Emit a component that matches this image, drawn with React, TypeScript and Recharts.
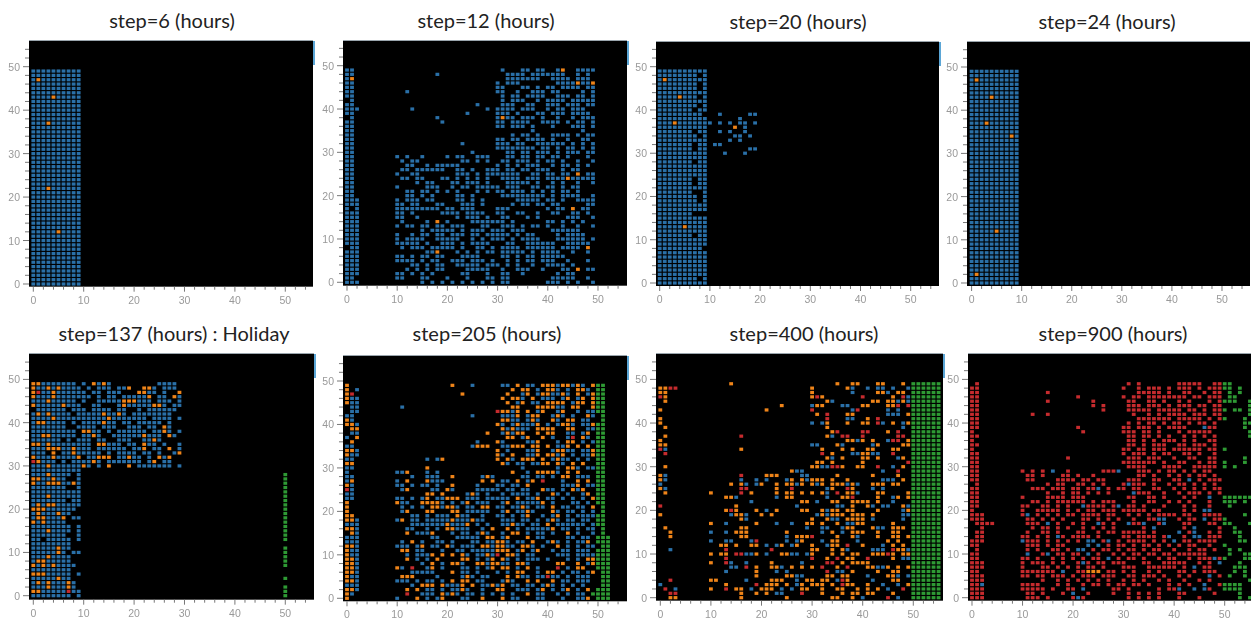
import { ScatterChart, Scatter, XAxis, YAxis, CartesianGrid } from 'recharts';

// each row is one y value, from y=49 down to y=0, one letter per x (spaces are only there to count by tens)
// b = blue, o = orange, r = red, g = green
const step6Rows = [
  'bbbbbbbbbb','bbbbbbbbbb','bobbbbbbbb','bbbbbbbbbb','bbbbbbbbbb','bbbbbbbbbb','bbbbobbbbb','bbbbbbbbbb','bbbbbbbbbb','bbbbbbbbbb',
  'bbbbbbbbbb','bbbbbbbbbb','bbbobbbbbb','bbbbbbbbbb','bbbbbbbbbb','bbbbbbbbbb','bbbbbbbbbb','bbbbbbbbbb','bbbbbbbbbb','bbbbbbbbbb',
  'bbbbbbbbbb','bbbbbbbbbb','bbbbbbbbbb','bbbbbbbbbb','bbbbbbbbbb','bbbbbbbbbb','bbbbbbbbbb','bbbobbbbbb','bbbbbbbbbb','bbbbbbbbbb',
  'bbbbbbbbbb','bbbbbbbbbb','bbbbbbbbbb','bbbbbbbbbb','bbbbbbbbbb','bbbbbbbbbb','bbbbbbbbbb','bbbbbobbbb','bbbbbbbbbb','bbbbbbbbbb',
  'bbbbbbbbbb','bbbbbbbbbb','bbbbbbbbbb','bbbbbbbbbb','bbbbbbbbbb','bbbbbbbbbb','bbbbbbbbbb','bbbbbbbbbb','bbbbbbbbbb','bbbbbbbbbb',
];

const step24Rows = [
  'bbbbbbbbbb','bbbbbbbbbb','bobbbbbbbb','bbbbbbbbbb','bbbbbbbbbb','bbbbbbbbbb','bbbbobbbbb','bbbbbbbbbb','bbbbbbbbbb','bbbbbbbbbb',
  'bbbbbbbbbb','bbbbbbbbbb','bbbobbbbbb','bbbbbbbbbb','bbbbbbbbbb','bbbbbbbbob','bbbbbbbbbb','bbbbbbbbbb','bbbbbbbbbb','bbbbbbbbbb',
  'bbbbbbbbbb','bbbbbbbbbb','bbbbbbbbbb','bbbbbbbbbb','bbbbbbbbbb','bbbbbbbbbb','bbbbbbbbbb','bbbbbbbbbb','bbbbbbbbbb','bbbbbbbbbb',
  'bbbbbbbbbb','bbbbbbbbbb','bbbbbbbbbb','bbbbbbbbbb','bbbbbbbbbb','bbbbbbbbbb','bbbbbbbbbb','bbbbbobbbb','bbbbbbbbbb','bbbbbbbbbb',
  'bbbbbbbbbb','bbbbbbbbbb','bbbbbbbbbb','bbbbbbbbbb','bbbbbbbbbb','bbbbbbbbbb','bbbbbbbbbb','bobbbbbbbb','bbbbbbbbbb','bbbbbbbbbb',
];

const step12Rows = [
  'bb........ .......... .......... .b...bb.bb ..bo..bbbb',
  'bb........ ........b. .......... ..bbbb.bbb bbbb..b.b.',
  'bo........ .......... .......... ..bbbbbbb. .bbbb.bbb.',
  'bb........ .......... .......... b.bbb..... ..bbbbobbo',
  'bb........ .......... .......... bb...bb.b. bb.bbbb.bb',
  'bb........ ..b....... .......... bb..b..bbb .bb....b.b',
  'bb........ .......... .......... .b.bb.bbbb ..bbb.bb.b',
  '.b........ .......... .......... .b.bbb..b. bbbb.bbbbb',
  'bb........ .......... ......b... .bbb..bb.. bbb.bbb.bb',
  'bbb....... ...b...... ........b. bbbb.bbb.. b.bb.bbb..',
  'bb........ .......... ....b..... bbb.b...bb .bbb.bbbb.',
  '.b........ ........b. .......... bobb.bbb.b ..b..b.bbb',
  'bb........ .........b .......... bb.bbbb..b bbb.b.bb.b',
  'bb........ .......... .......... bb.bbb.b.. .b...bbb.b',
  'bb........ .......... .......... .......b.. .......b..',
  'bb........ .......... .......... ...b.bb.b. .bbbb.b.bb',
  'bb........ .......... .......... bb.bb.bbbb .b..b..bb.',
  'bb........ .......... ...b...... bbb.bb..bb bbbb.b.b.b',
  'bb........ .......... .......... bbbbbbbb.b b.b.bb.b.b',
  'bb........ .......... .....b.... ..bb.bb.bb b.b.bbb.bb',
  'bb........ b.b..b.... b.bb..bbb. ..bb.bb.bb .bb.b...b.',
  'bb........ .b.bb..... ...bb.b.b. .bb.bbb.b. bb.b..b..b',
  'bb........ ..bb..b.bb bbb....... b.b.b.bbb. .b.bb.b.b.',
  'bb........ .bb.bbbbbb ..bb.b..bb b.bb.bb.bb b..b.bb...',
  'bb........ b..bb..... ..bbb.b.bb bbbbb..bb. bb.bb.o.bb',
  'bb........ .bb.bb...b b.b.b.b.b. .bbbb.bbb. bbbbobbbbb',
  'bb........ ....b.bb.. .bb.bbb.b. ..bbbbb.b. .b.b..b..b',
  'bb........ b.....bbb. .b.bb.bbbb b.bbb..bb. bb.b.bb...',
  'bb........ ..bb.bb.b. b.b...b.b. bb.bbb.b.b .b.bb.b...',
  'bb........ ..bb.b.b.. ..bb.b.... .bbbbbbbbb .b.bbbb..b',
  'bbb....... b.bbb.bb.. ..bb.b.b.. ....bbbbb. bb.b..bbbb',
  'bbb....... bb.bb...bb ...bbb.b.. ...b.bb.bb .bb.....bb',
  'b.b....... bbbbbbbbb. bb.bbb.... bbb....... b.bb.o.bb.',
  'bbb....... bb.b.....b bbb.bbbb.. bb..bb..b. .bb..bb.b.',
  'bbb....... bb..b..... ..b.bbb.b. .bb...b.b. ....bbb..b',
  'bbb....... .b....b.o. b....bbbbb bb.b...... bb.b.b.b..',
  'bbb....... b.bb.bb.bb .bbb...bb. .bbb.b.bb. b..b..b..b',
  'bbb....... .....b.bbb bb.b.bbb.b bb.bbb.... .bbbbbb...',
  'bbb....... b..b.bb.bb .bbb.bb.bb bbb.b.bb.. ..b.bbbb..',
  'bbb....... b.bbbb..bb bbb..b.b.b bb.b.bbbb. ..bbbbbb.b',
  'bbb....... bbbbb.b..b bb.b.bbbb. ..bb..bbbb bb..bbbbb.',
  '.bb....... .b.bbb.bbb bb.b..bb.b .bbbb.bbbb bb.bbbb.o.',
  'bbb....... ......bbo. ..b.b.b.bb .bbbbb.b.b bbb..b..b.',
  'bbb....... bb.b.bb.bb ...bbbb... .bb.b.bb.b bbbb......',
  'bbb....... bbbb.b.bb. .bbb.bbb.b ..b.b.bb.b bb..b...b.',
  'bbb....... ...bb.b.bb ..bbbbb.bb b.b.b..b.. bbbb.b....',
  'bbb....... ..b.b.b.bb ....bbbbb. .b..bbb..b ...bb.o.bb',
  'bbb....... bb.b.b.b.. ...bb...b. .bb..b.... ..b.bb....',
  'bb........ bb...bb... b...b...bb .bb....... .bbbbb..b.',
  'bbb....... .....b.b.b .b.b.b.b.b .bb....... bbb.b.b..b',
];

const step20Rows = [
  'bbbbbbbbbb','bbbbbbbb.b','bobbbbbbbb','bbbbbbbb.b','bbbbbbbb.b','bbbbbbbbbb','bbbbobbb.b','bbbbbbbbbb','bbbbbbbb.b','bbbbbbb.bb',
  'bbbbbbbbb. ..b.....bb',
  'bbbbbbbbbb ......b...',
  'bbbobbbbbb b.b.b.bb.b',
  'bbbbbbbbbb .....o.b..',
  'bbbbbbb.bb ..b.b..b..',
  'bbbbbbbb.b .....bb.b.',
  'bbbbbbbbbb ....b.b...',
  'bbbbbbb.bb .bb.......',
  'bbbbbbb.bb ........bb',
  'bbbbbbbbbb ...b...b..',
  'bbbbbbbbbb','bbbbbbb.bb','bbbbbbbbbb','bbbbbbbbbb','bbbbbbbbbb','bbbbbbb.bb','bbbbbbb.bb','bbbbbbbbbb','bbbbbbb..b','bbbbbbbb.b',
  'bbbbbbbb.b','bbbbbbbbbb','bbbbbbbbbb','bbbbbbb...','bbbbbbbbbb','bbbbbbbbbb','bbbbbobbbb','bbbbbbbbbb','bbbbbbb.bb','bbbbbbbbbb',
  'bbbbbbbbbb','bbbbbbbbb.','bbbbbbbbbb','bbbbbbbbbb','bbbbbbbbbb','bbbbbbbbbb','bbbbbbbbbb','bbbbbbbbbb','bbbbbbbb.b','bbbbbbbbbb',
];

const step137Rows = [
  'oobbbbbbb. b.obob.... .....bbbb.',
  'obbobobbbb .b.bbb.bbo ..oob.bbb.',
  'orbbobbbbb b.bb.bbb.. .oobb.b..o',
  'obbbobbbbb bb.b.bb.bb bbbo.bb.ob',
  'bbbobbbbb. b..bbbbboo obbb.bbb.b',
  'obbbbbobbb ..bb...bob bbbboob.bb',
  '.bbbbbb.bb b.bbbb.bb. .b.bbbbbb.',
  'bobobbbb.b bbbbobbob. bbbbbbbb..',
  'bbbbobbbbb bbbbbobbbb bbb.bbbb.b',
  'boobbbb.b. bbbbobb.bb .bbbbb.b..',
  'bbbbbbb..b bbb.bbb..b bb.bb.ob..',
  'bbbbbbbbb. oobb.b.bbb bbb.bbob.b',
  'bboobbbbb. bbob..bbbb bbobbb.ob.',
  'bbbbbb.b.b bb.bb..bbb ..bbob....',
  'oobobbbbbb bb.oobbb.b b.obb.b..b',
  'bbbooobbob bb.bbbbbb. bbo.bb.o.b',
  'bbb.o.bbob bbbb.b.bbb b.bb.b..bo',
  'obbbobbbbo .bbooo.bbo bb.b.obo..',
  'robbb.b.bb bbob.bbbbb bb.bo.bb..',
  'bbbobbbbbb ob.b.o...o .bbbbbbb.b',
  'bbbbbbbbbb','bbbobbbb.b','oobbobb..b','obbooobbob','bbbbbbb..b','bbbbbbbbbb','bbbobbbbbb','bbbbbbb.bb','boboobbbbb','ooobbbbbb.',
  'bobbbobb..','boobbbo.bb','obobbbb...','bbbbbbbb.b','bbbobbbb.b','bbbbbbb..b','bb.bbbbb.b','bbbbbbbb..','bbbbbobb..','bbbbbob.bb',
  'bbbobbbb..','boobbbbb..','obobobbbb.','bbbbbbbb..','ooobbbbb.b','bbbbbobb..','bobobbbob.','bbbobbbob.','oobbbbbrbb','bbbbbbbb.b',
];
const step137GreenY = [28, 27, 26, 25, 24, 23, 22, 21, 20, 19, 18, 17, 16, 15, 14, 13, 11, 10, 9, 8, 7, 4, 2, 1, 0];

const step205Rows = [
  'o......... .......... .o...b.... .bb.o.bb.o ooboobob.o gg',
  'o.b....... .......... .......... ...o.oo.b. oob.b.oob. gg',
  'or........ .......... ...o...... ..o..bo.bo obbob.o.bo gg',
  'obb....... .......... .......... .o.oob.o.b bb.bo.bo.o gg',
  'obb....... .......... .......... ..o.bo.bb. oooo.boo.o gg',
  '.bb....... .b........ .......... ...oo...oo oobb.oo..o gg',
  '.bb....... .......... .......... roobo.o.bo ..bo..b.bb gg',
  'bb........ .......... .....b.... .bbbo.boo. .bob.b..ob .g',
  'ob........ .......... .......... .oobb.bob. .ob.oo.bb. .g',
  'oob....... .......... .......... ob.bobbbo. b.boob.bbo gg',
  '.oo....... .......... .......... .obobbb.oo oo..oo..bb gg',
  '.bb....... .......... ........o. .boboo..o. oo..bb.bo. gg',
  'b.o....... .......... .......... ..oo.bo..o .b..br.ob. gg',
  '.o........ .......... ......b... ob....bbo. ..b.oo.b.b gg',
  'bb........ .......... .....booo. .bbooo.oo. o.bbo.o.o. gg',
  'oob....... .......... .......... o.b...bbo. .boobb.bbo gg',
  'obb....... .......... .......... ob.o..bbo. oobo.b.bbo gg',
  'bb........ ......b.bo .......... o.ob.ooo.o .bobb.b.b. gg',
  'oo........ .......... .......... .ob.bb.bbo o.ob.o.o.. gg',
  'bb........ ......o... .......... .....b.... ..b.oob.bb gg',
  'b......... bbo...b.b. .......... ...o..b.oo oob.o.o... gg',
  'bb........ ...b..bbb. .o.....bob .....bb.bb .b.oo.bbb. gg',
  'bo........ b.o...obbb .......o.o .bb.o.bo.r ...b..o.o. gg',
  'ob........ bb.b.bb.b. .o....b... bb.bb.o... ...bbbo.bb gg',
  'rb........ .bo....bb. ob....bbbb b.bb.bb..o bb.b.obo.. gg',
  'bb........ ......oo.o ....bob.b. .b.bbbb.b. .ob.b..bo. gg',
  'bb........ bb.b.bo.bb ooo.bbb.bb bbb.o.bbo. bb.b.b.b.o gg',
  'o......... obb..oooob .b.bo.bbb. .bo.bbbbbo .b...bb.b. gg',
  'o......... .b.b.b.oob oob.bb.oo. bb.bbob.bb .o.bb.bb.o .g',
  'o......... .bo...oo.. .oo.bbbbb. .bo.bbob.. .ob.bb.b.b .g',
  'oo........ ...bb.b.bb b.obb..b.. bb.b.bo..b .bo.b.bbbb gg',
  'oob....... bo.bb.bbbb bobbbobb.. .bbb.bb.b. bob.bb.bb. gg',
  'bbb....... ...bbbbbbb obbbo.b.b. .bbobb.bb. o.bbbbbb.b gg',
  'oob....... ..bb..b.b. oobbb..b.o ..o.b.bbbb bo.bb.b.bb .g',
  '.ob....... ..o.bbbo.. .b.bb.bob. .b.oo.b.bb .b..o.b..b .g',
  'bbb....... .......bb. ..bbbbb.oo .bo...o.bb ....bb.bb. ggg',
  'bbb....... .b.o.b..bb .b...bb.bb oob.bb.o.. bob.b.bbo. ggg',
  'oob....... bbb.bo.bb. ob.bbb.oob oobb.oob.b ..o.b.b.bb .gg',
  'obb....... .oo.bb...b ..bb.bbbbb ooo.bo.bo. .b.bb.bbb. ggg',
  'obb....... ..b.bbbo.o .o.ob.bbob r.oob.bb.. ..bbb.bbbb ggg',
  'oob....... ..o.b.b.o. ...oo.b.bo .ob.b.bbb. b...b.b.oo ggg',
  'oob....... .....b.o.b .oob..oobo obb.oob... ..oo..o.bo ggg',
  'oob....... ob.r..bo.b ...bb.b.bo .oo.b.o.b. ..r.b.oo.. ggg',
  'oob....... ...bbbbb.. .o.bb.b... b.b.oo..b. oo.b.bb.bo .gg',
  'obb....... .ooo....b. ...bob.bb. ..o.obb.bb rbb.b.bbb. .gg',
  'oob....... bbb.b.bb.b .o.oo.bb.. .bob..o.o. .o.bb.bbb. .gg',
  'bbb....... ...b.ooo.o bbbo.o.bbo bo.bb.bb.b ob.b.b.b.. .gg',
  'oob....... ..o.o.bb.b .bbob..b.. oo..bbb.bo .b.bo.b.o. ggg',
  'ob........ ..r..bbb.o bob.bb.b.b .b.b..o.bb ..b.b.bb.g ggg',
  'o......... b...o.b.bo ...bb..o.. .o.bb...bb ...b..bbo. ggg',
];

const step400Rows = [
  '.......... ....o..... .......... .....o..oo ...oo...o. gggggg',
  'oorr...... .......... .......... o......ob. .b.bb.b..b gggggg',
  'oo........ .......... .......... o.......b. ...oob.oo. gggggg',
  'ro........ .......... .......... oro....... r.....o.rb gggggg',
  '.o........ .......... .......... ...ob..... ..oo.oobob gggggg',
  '.......... .......... ....o..... boo...bb.. oo...oor.r gggggg',
  'o......... .......... .o........ r.......br .....b.b.. gggggg',
  '.......... .......... .......... .o.r...oo. .....bbb.o gggggg',
  'o......... .......... .......... ...r...bb. .o.r...... gggggg',
  'o......... .......... .......... b.bo...o.. oo.rb.o.bo gggggg',
  '.o........ .......... .......... ...o...... ........b. gggggg',
  '.......... .......... .......... ....or.... rr...o.r.. gggggg',
  '.o........ ......r... .......... ...ob.rr.. r......rr. gggggg',
  'o......... .......... .......... .......oob o.o..brr.o gggggg',
  'oo........ .......... .......... bb...ob... ..bo....oo gggggg',
  'rb........ ......o... .......... ..o...o.o. .oo...oo.. gggggg',
  '.r........ .......... .......... ..r.o...bb oobb..r... gggggg',
  '.......... .......... .......... ...ob.o... oo.o...bo. gggggg',
  '.......... .......... .......... .oo.o..... o........r gggggg',
  '.o........ .......... .......... oobbrro..o o..r..b.o. gggggg',
  '.......... .......... ......obb. .......... ....b..r.. gggggg',
  'ob........ ......r... .ooo....bb .....o.... ..o....o.. gggggg',
  'ob........ ......b..b .b...bo.ob ooo.o..o.. ....bbb.o. gggggg',
  'b......... ....o.ob.b o..o.oobo. obo.ooobob ..ooo.oo.. gggggg',
  'ob........ ......rr.. ...o..r... ...bo..ro. ..b.b..... gggggg',
  '.o........ o.....r.o. ...o.oo.o. o.ob.r.oob ...oo....o gggggg',
  '.......... ...oob.... ...b.oo... ...b..oor. ...o..bo.o gggggg',
  '.......... ........b. ........oo .b..oo..oo oo.o..b... gggggg',
  'r......... .....o.... .......b.. .....bb.o. .ob.bb..ob gggggg',
  '.......... ...oro...o .b.o....oo ..oboo.oo. ...o....bo gggggg',
  'o......... ....boob.. o.o....... .bobooo.oo o.o.....bb gggggg',
  '.......... ......ob.. .......... o..obb.ooo o.b.....b. gggggg',
  '.......... o..b.....o ...b..b..o o.o..o.bbo o.....o... gggggg',
  '.o........ ......oo.. .........b ..bb..boo. ..obb.ooo. gggggg',
  '..o....... b..b.ooo.. .....o.... ..b.o.b.oo o..o..oo.. gggggg',
  '..o....... ......oo.. .....b.ooo r....o..ob ...o..oo.o gggggg',
  '.......... b..bb...br .....b.bo. ..b.oo...b .....o.o.. gggggg',
  '.......... ..oo.o..oo .b.bo.bo.. o..boo.r.. o...b.o.o. gggggg',
  '..b....... ...r...... ..r....... oo..o.ob.. ..bbb.roob gggggg',
  '.......... o.oo.rrbbo .b..oobb.b o...o.o.oo ..oooro.oo gggggg',
  '.......... ...r...... .......... r..o.r.oo. .r....o.bb gggggg',
  '.......... o..rb..b.. ..o.....b. ...rr.o.oo oo........ gggggg',
  '.......... ....bb.r.o ..oob.o.o. o.r..o.r.. .oobbo.o.o gggggg',
  '.......... ...b.....o ...b.b.... ...r.bb.o. ...o..oo.. gggggg',
  '.......... .........o .....oobb. ...oo.oo.. .b...oob.b gggggg',
  '..r....... oo.....b.. ..ooo..b.o o.oo.bro.. ..b...oo.. gggggg',
  'b......... ...o.....r .ooo.o.bo. ooo.o.roo. .o..b..b.o gggggg',
  '.r.b...... o..r.oo.b. ooo.b.b.oo ..o..oo..o .o.o.b..r. gggggg',
  '..rr...... ......o..o .o.bb...r. ..o...o.oo .oo...o... gggggg',
  '..oo...... ......o... .....o.... ....oo..o. b....r.b.. gggggg',
];

const step900Rows = [
  '.r........ .......... .......... .r.r...... .rrrrr..rr gg.....g..',
  'rr........ .......... .......... r..r.rrr.r .rrr.r.rrr gg.g...g..',
  'rr........ .....r.... .......... ...rrrrr.r ..rr..r.rr .g.g...gg.',
  'rr........ .......... .r........ r.rr.rrrrr rrr.rr.rrr .gg....g..',
  'rr........ .....r.... ....r..... .rr..rr.r. .r.r...r.r ggg..g....',
  'rr........ .......... ....r.r... .rrr.rrr.r .rrr.rr.rr .....g.g..',
  'rr........ .......... ......r... .rrrrr.rrr rr.rr.r.rr g.gg.g.gg.',
  'rr........ ..r..r.... .......... ..r..r.r.r rrr.rrr.rr .....gg...',
  'rr........ .......... .......... ...rrrrrrr .rrrrr.r.r g...g.gg..',
  'rr........ .......... .......... .r.r.rr.r. rr.r.rr.r. ....ggg.g.',
  'rr........ .......... .r........ rr.rrr.r.r rrr...brr. ....g.ggg.',
  'r......... .......... ..r....... rrr.rr.r.. .r.rrrrr.. .....ggg..',
  'rr........ .......... .......... .rr.rr.r.r ..r.r.r.r. .....g.g..',
  'r......... .......... .......... .rr.r.r.rr r.r.r..rr. ........g.',
  'rr........ .......... .......... .rr.r.rrr. .rr.rrr.r. ........gg',
  'r......... .......... .......... rr.rr.rrr. rrrrrr.rr. g.....g.gg',
  'rr........ .......... .......... r.rrr.r.rr ..rr.r..r. ..........',
  'rr........ .........r .......... .rrr.rrr.. r..rr..rr. ....g.....',
  'rr........ .......... .......... rrrrrrr.r. .rr..r.rr. g...g.....',
  'rr........ .......... .......... .rrrr...rr rr..rrrrr. g.g.......',
  'rr........ r.r.r.b..r ......rrrb ...rrr.r.r r.r.r.rr.. ......ggg.',
  'rr........ .rr.r...rr .r..r..... ...rr.r..r .r.r.rr.r. ......gggg',
  'rr........ .rr....rrr r.rr.rr... .rrr..rr.. rr.b.r.rrr ......gggg',
  '.r........ .....r.rr. .rr.r.r... rbrrr.r..r .rr.r.r.r. ......ggg.',
  'rr........ ..rrr.rrr. rr.rrb.r.r r.rr..rr.. r.r.r.r.rr .........g',
  'rr........ .....r..r. rr.r.r.r.. ..brrr..r. .r.rrr.r.r ..........',
  'rr........ r....rrrr. rrr....... .rr..rr.r. ..r.r..b.. gggggg....',
  'rr........ ..rr.r.rrr rrr.r.rrr. ..r..rr..r .r.r...r.. ggg.g.....',
  'rr........ rr..rr.r.r ..brrrr.rb .rr.r...r. ..r.r..r.. .g........',
  'r......... r..rrrrr.r .r.rr.rrr. rrrrr.rr.. ..r.r.bb.. ..........',
  'rrr....... rb.r.r.r.r r.rrrr.rr. .r.r.r.rrr r.rr..rrrr ....g.....',
  'rrr....... .rr.r.r.r. ..rr.r.r.r ..r..rrbb. .r.rr.b.rr g.........',
  '.rrrr..... .rrr.b.r.. r.r..br.r. .brrb..rb. ..rr...rr. gg...g....',
  '..r....... ..r.rr.r.r ..r.r.r.r. ....r.b... ..r.b....r ..g.......',
  '.rr....... .r..rr.r.. .rr..r.rr. rrrrr.r... .b.rb..r.r ..gg......',
  '.rr....... rr.r.r.br. rrrr.r.... rr.rrrr.rb ..r.bb.rrr ...g......',
  'rrr....... brrr.r.r.r .r.bb.rb.r .rrrr.r.r. b.rr.rrrr. ...gg...gg',
  'rr........ .rrr.r.rr. ...b.b.r.r r.r.rr.r.r .r.rr..r.. g.........',
  '.r........ .r.r..rr.r .bb.r.rr.r .rr.r.rr.. r..r.rr.r. .g.g......',
  'rr........ .b..rb.rr. rr.b.r..r. r.rr.rr.rr .rrrrrr... .g..gg....',
  'rr........ rr.r..r.r. r.r.rr.b.r .rr.r..r.r r..r.rrrbr g...gg....',
  'rrr....... r.rrr.r.r. .rbr.rr.rr r...rr..rr rrr..r.r.b ...g......',
  'rrr....... r...rr.r.r .r.rr.r... rrr..rrrrr r.r.b.rr.. ..ggg.....',
  'rr........ rrrrrrr.b. .rrooo.rr. r.r..r.r.. .rr.r.rrr. ..g.g.....',
  'rrr....... rr.rr.rrr. r.rrr.rrr. .rr.rrr.r. .r.r...b.r .g..g.....',
  'rrr....... ....r..r.r .r.r.r.r.. r.r.r..r.r ..r..r.r.. .....g....',
  'rrb....... rrrr...r.r ..r.rr.r.r r.rr.r...r .r.r..b..r gggg......',
  'rrr....... rrrrr.r..r r.b.....rr .r.....r.r rb..b.br.. gggg......',
  'rrr....... .rr.r...r. b..r....r. .r.r.r.r.. .rr.....r. ...g......',
  'rrr....... .rrr.r.... rbr....... .r.r.r.r.. .r...r.... ...g.g....',
];

const xTicks = [0, 2, 4, 6, 8, 10, 12, 14, 16, 18, 20, 22, 24, 26, 28, 30, 32, 34, 36, 38, 40, 42, 44, 46, 48, 50, 52, 54];
const yTicks = [0, 2, 4, 6, 8, 10, 12, 14, 16, 18, 20, 22, 24, 26, 28, 30, 32, 34, 36, 38, 40, 42, 44, 46, 48, 50, 52, 54];

const COLORS: Record<string, string> = { b: '#2a70a8', o: '#ef8419', r: '#c62b2e', g: '#2e9a34' };

type Pt = { x: number; y: number };

function parseRows(rows: string[]) {
  const out: Record<string, Pt[]> = { b: [], o: [], r: [], g: [] };
  rows.forEach((row, i) => {
    const y = 49 - i;
    row.replace(/ /g, '').split('').forEach((c, x) => {
      if (out[c]) out[c].push({ x, y });
    });
  });
  return out;
}

const Cell = (props: any) => (
  <rect x={props.cx - 1.9} y={props.cy - 1.6} width={3.8} height={3.2} fill={props.fill} />
);

const XTick = ({ x, y, payload }: any) => {
  const major = payload.value % 10 === 0;
  return (
    <g>
      <line x1={x} x2={x} y1={y} y2={y + (major ? 5 : 3)} stroke="#777" />
      {major && <text x={x} y={y + 17} textAnchor="middle" fontSize={10.5} fontFamily="Liberation Sans" fill="#999">{payload.value}</text>}
    </g>
  );
};

const YTick = ({ x, y, payload }: any) => {
  const major = payload.value % 10 === 0;
  return (
    <g>
      <line x1={x} x2={x - (major ? 6 : 4)} y1={y} y2={y} stroke="#777" />
      {major && <text x={x - 9} y={y + 4} textAnchor="end" fontSize={10.5} fontFamily="Liberation Sans" fill="#999">{payload.value}</text>}
    </g>
  );
};

type PanelProps = {
  title: string; titleX: number; titleY: number; rows: string[]; extraGreen?: Pt[];
  left: number; right: number; top: number; bottom: number;
  x0: number; x50: number; y0: number; y50: number; sliver?: boolean;
};

function Panel(p: PanelProps) {
  const sx = (p.x50 - p.x0) / 50;
  const sy = (p.y0 - p.y50) / 50;
  const xDomain = [(p.left - p.x0) / sx, (p.right - p.x0) / sx];
  const yDomain = [(p.y0 - p.bottom) / sy, (p.y0 - p.top) / sy];
  const pts = parseRows(p.rows);
  const green = [...pts.g, ...(p.extraGreen || [])];
  const w = p.right - p.left;
  const h = p.bottom - p.top;
  return (
    <>
      <div style={{ position: 'absolute', left: p.titleX, top: p.titleY, transform: 'translate(-50%, -50%)', fontFamily: 'Lato', fontSize: 20, color: '#222', whiteSpace: 'nowrap' }}>
        {p.title}
      </div>
      <div style={{ position: 'absolute', left: p.left - 28, top: p.top, filter: 'blur(0.3px)' }}>
        <ScatterChart width={w + 28} height={h + 24} margin={{ top: 0, right: 0, bottom: 0, left: 0 }}>
          <CartesianGrid horizontal={false} vertical={false} fill="#000" />
          <XAxis type="number" dataKey="x" domain={xDomain} allowDataOverflow ticks={xTicks} interval={0} height={24} axisLine={false} tickLine={false} tickSize={0} tickMargin={0} tick={<XTick />} />
          <YAxis type="number" dataKey="y" domain={yDomain} allowDataOverflow ticks={yTicks} interval={0} width={28} axisLine={false} tickLine={false} tickSize={0} tickMargin={0} tick={<YTick />} />
          <Scatter data={pts.b} fill={COLORS.b} shape={<Cell />} isAnimationActive={false} />
          <Scatter data={pts.o} fill={COLORS.o} shape={<Cell />} isAnimationActive={false} />
          <Scatter data={pts.r} fill={COLORS.r} shape={<Cell />} isAnimationActive={false} />
          <Scatter data={green} fill={COLORS.g} shape={<Cell />} isAnimationActive={false} />
        </ScatterChart>
      </div>
      <div style={{ position: 'absolute', left: p.left, top: p.top - 1, width: w, height: 1, background: '#9aa5ad' }} />
      {p.sliver && <div style={{ position: 'absolute', left: p.right, top: p.top, width: 2, height: 24, background: '#5ba6d6' }} />}
    </>
  );
}

export default function App() {
  const green137 = step137GreenY.map(y => ({ x: 50, y }));
  return (
    <div style={{ position: 'absolute', left: 0, top: 0, width: 1251, height: 620, overflow: 'hidden', background: '#fff' }}>
      <Panel title="step=6 (hours)" titleX={172} titleY={20} rows={step6Rows} left={28.7} right={313.3} top={41} bottom={286.7} x0={33} x50={285} y0={284} y50={66.7} sliver />
      <Panel title="step=12 (hours)" titleX={486} titleY={20} rows={step12Rows} left={342.7} right={627} top={41} bottom={285.7} x0={346.7} x50={597.7} y0={282.3} y50={65.7} sliver />
      <Panel title="step=20 (hours)" titleX={798} titleY={21} rows={step20Rows} left={656} right={939} top={42} bottom={286} x0={659.7} x50={910.7} y0={283} y50={66.7} sliver />
      <Panel title="step=24 (hours)" titleX={1107} titleY={21} rows={step24Rows} left={966.7} right={1250} top={42} bottom={286} x0={971.3} x50={1221.7} y0={283} y50={67} />
      <Panel title="step=137 (hours) : Holiday" titleX={174} titleY={333} rows={step137Rows} extraGreen={green137} left={28.7} right={314} top={354.3} bottom={600} x0={33} x50={285} y0={596} y50={379.7} sliver />
      <Panel title="step=205 (hours)" titleX={487} titleY={333} rows={step205Rows} left={342.7} right={627.3} top={355.7} bottom={601} x0={346.7} x50={597.7} y0={598} y50={380.7} sliver />
      <Panel title="step=400 (hours)" titleX={804} titleY={333} rows={step400Rows} left={656} right={943} top={354.3} bottom={601} x0={660.3} x50={913.3} y0={598} y50={379.7} sliver />
      <Panel title="step=900 (hours)" titleX={1113} titleY={333} rows={step900Rows} left={968.3} right={1256} top={354.3} bottom={601} x0={972.3} x50={1225} y0={598} y50={379.7} />
    </div>
  );
}
